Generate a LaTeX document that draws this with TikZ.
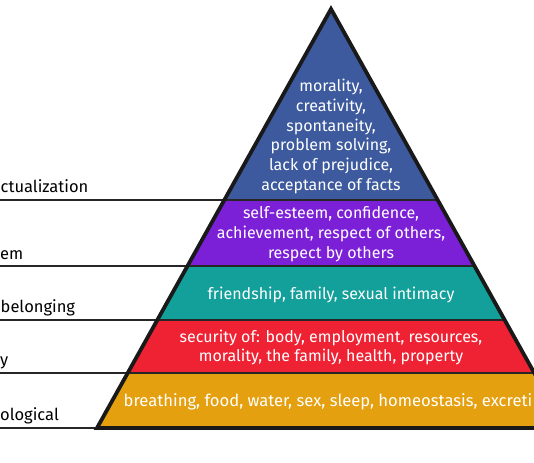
\documentclass[tikz,border=0pt]{standalone}
\usepackage{fontspec}
\setmainfont{Fira Sans}
\definecolor{lvblue}{HTML}{3D5A9E}
\definecolor{lvpurple}{HTML}{7C20D8}
\definecolor{lvteal}{HTML}{13A09A}
\definecolor{lvred}{HTML}{EE2233}
\definecolor{lvgold}{HTML}{E5A00F}
\definecolor{lineink}{HTML}{262626}
\begin{document}
\begin{tikzpicture}[x=1pt,y=-1pt,
  font=\fontsize{16}{19.8}\selectfont,
  intext/.style={text=white, align=center, inner sep=0pt},
  lbl/.style={anchor=base west, text=black, inner sep=0pt, font=\fontsize{16.5}{19.8}\selectfont},
  sep/.style={line width=2.2pt, draw=lineink},
  outline/.style={line width=3.8pt, draw=black!90, line join=miter}]
\useasboundingbox (0,0) rectangle (534,462);
\clip (0,0) rectangle (534,462);
% pyramid corners and level boundaries
\coordinate (apex) at (331,9);
\coordinate (bl) at (97,428);
\coordinate (br) at (565,428);
\coordinate (l1) at (224.3,200); \coordinate (r1) at (437.7,200);
\coordinate (l2) at (187.5,266); \coordinate (r2) at (474.5,266);
\coordinate (l3) at (157.3,320); \coordinate (r3) at (504.7,320);
\coordinate (l4) at (127.7,373); \coordinate (r4) at (534.3,373);
% left ends of label lines
\coordinate (e1) at (0,200);
\coordinate (e2) at (0,266);
\coordinate (e3) at (0,320);
\coordinate (e4) at (0,373);
\coordinate (e5) at (0,428);
% layers
\fill[lvblue] (apex) -- (l1) -- (r1) -- cycle;
\fill[lvpurple] (l1) -- (l2) -- (r2) -- (r1) -- cycle;
\fill[lvteal] (l2) -- (l3) -- (r3) -- (r2) -- cycle;
\fill[lvred] (l3) -- (l4) -- (r4) -- (r3) -- cycle;
\fill[lvgold] (l4) -- (bl) -- (br) -- (r4) -- cycle;
% separators and label lines
\draw[sep] (e1) -- (r1);
\draw[sep] (e2) -- (r2);
\draw[sep] (e3) -- (r3);
\draw[sep] (e4) -- (r4);
\draw[sep] (e5) -- (bl);
% outline
\draw[outline] (bl) -- (apex) -- (br) -- cycle;
% texts inside
\node[intext] (t1) at (331,136.5) {morality,\\creativity,\\spontaneity,\\problem solving,\\lack of prejudice,\\acceptance of facts};
\node[intext] (t2) at (331,234) {self-esteem, confidence,\\achievement, respect of others,\\respect by others};
\node[intext] (t3) at (331,294.5) {friendship, family, sexual intimacy};
\node[intext] (t4) at (331,347.5) {security of: body, employment, resources,\\morality, the family, health, property};
\node[intext, anchor=west, font=\fontsize{16.6}{19.8}\selectfont] (t5) at (123.5,402) {breathing, food, water, sex, sleep, homeostasis, excreti};
% labels on the left
\node[lbl] (n1) at (0.5,192) {ctualization};
\node[lbl] (n2) at (0,259.5) {em};
\node[lbl] (n3) at (0.5,312) {belonging};
\node[lbl] (n4) at (0,365) {y};
\node[lbl] (n5) at (0,420.5) {ological};
\end{tikzpicture}
\end{document}
